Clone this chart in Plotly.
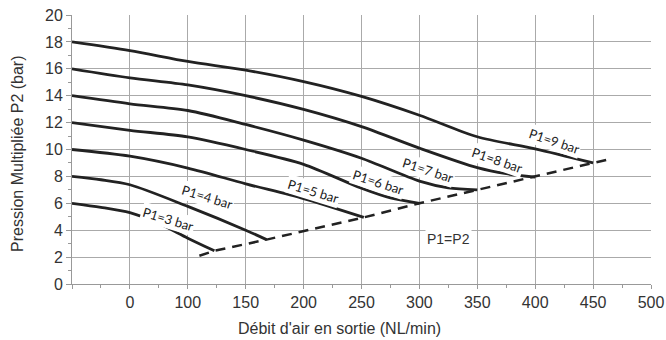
import plotly.graph_objects as go

# ---- data ----
p9_x = [0, 50, 100, 150, 200, 250, 300, 350, 400, 450]
p9_y = [18, 17.35, 16.55, 15.9, 15.05, 13.95, 12.55, 10.95, 10.05, 9.0]
p8_x = [0, 50, 100, 150, 200, 250, 300, 350, 375, 400]
p8_y = [16, 15.33, 14.8, 14.0, 12.98, 11.7, 10.1, 8.65, 8.2, 7.95]
p7_x = [0, 50, 100, 150, 200, 250, 300, 325, 350]
p7_y = [14, 13.4, 12.9, 11.86, 10.7, 9.35, 7.65, 7.15, 7.0]
p6_x = [0, 50, 100, 150, 200, 250, 275, 300]
p6_y = [12, 11.43, 10.93, 10.0, 8.9, 7.12, 6.4, 6.0]
p5_x = [0, 50, 100, 150, 200, 252]
p5_y = [10, 9.5, 8.62, 7.45, 6.35, 4.95]
p4_x = [0, 25, 50, 100, 150, 168]
p4_y = [8, 7.75, 7.38, 5.77, 4.0, 3.3]
p3_x = [0, 25, 50, 75, 100, 123]
p3_y = [6, 5.7, 5.3, 4.5, 3.41, 2.47]
eq_x = [110, 123, 168, 252, 300, 350, 400, 450, 465]
eq_y = [2.1, 2.47, 3.3, 4.95, 6.0, 7.0, 7.95, 9.0, 9.3]

series = [(p3_x, p3_y), (p4_x, p4_y), (p5_x, p5_y), (p6_x, p6_y),
          (p7_x, p7_y), (p8_x, p8_y), (p9_x, p9_y)]

label_text = ["P1=3 bar", "P1=4 bar", "P1=5 bar", "P1=6 bar", "P1=7 bar", "P1=8 bar", "P1=9 bar"]
label_x = [83, 117, 208, 264, 307, 367, 416]
label_y = [4.83, 6.45, 6.9, 7.55, 8.5, 9.23, 10.6]
label_angle = [17, 17, 17, 18, 18, 19, 18.5]

x_tickvals = [0, 50, 100, 150, 200, 250, 300, 350, 400, 450, 500]
x_ticktext = ["", "0", "100", "150", "200", "250", "300", "350", "400", "450", "500"]
y_tickvals = [0, 2, 4, 6, 8, 10, 12, 14, 16, 18, 20]

line_col = "#222222"
grid_col = "#aaaaaa"
txt_col = "#333333"

fig = go.Figure()
for xs, ys in series:
    fig.add_trace(go.Scatter(x=xs, y=ys, mode="lines",
                             line=dict(color=line_col, width=2.8, shape="spline", smoothing=0.8),
                             showlegend=False, hoverinfo="skip", cliponaxis=False))
fig.add_trace(go.Scatter(x=eq_x, y=eq_y, mode="lines",
                         line=dict(color=line_col, width=2.5, dash="10px,7px"),
                         showlegend=False, hoverinfo="skip"))

for t, x, y, a in zip(label_text, label_x, label_y, label_angle):
    fig.add_annotation(x=x, y=y, text=t, showarrow=False, textangle=a,
                       font=dict(family="Lato", size=13, color=line_col),
                       bgcolor="white", borderpad=1)

fig.add_annotation(x=325, y=3.35, text="P1=P2", showarrow=False,
                   font=dict(family="Liberation Sans", size=14, color=txt_col),
                   bgcolor="white", borderpad=1)

# axis titles
fig.add_annotation(xref="paper", yref="paper", x=(339 - 72) / 579, y=-44 / 269,
                   text="Débit d'air en sortie (NL/min)", showarrow=False,
                   xanchor="center", yanchor="middle",
                   font=dict(family="Liberation Sans", size=16, color=txt_col))
fig.add_annotation(xref="paper", yref="paper", x=-55 / 579, y=(284 - 154) / 269,
                   text="Pression Multipliée P2 (bar)", showarrow=False, textangle=-90,
                   xanchor="center", yanchor="middle",
                   font=dict(family="Liberation Sans", size=16, color=txt_col))

fig.update_xaxes(range=[0, 500], tickvals=x_tickvals, ticktext=x_ticktext,
                 showgrid=True, gridcolor=grid_col, gridwidth=1,
                 showline=True, linecolor="#999999", linewidth=1,
                 ticks="outside", ticklen=4, tickcolor="#999999",
                 minor=dict(dtick=25, tick0=0, ticks="outside", ticklen=3, tickcolor="#999999", showgrid=False),
                 tickfont=dict(family="Liberation Sans", size=16, color=txt_col),
                 zeroline=False, fixedrange=True, automargin=False)
fig.update_yaxes(range=[0, 20], tickvals=y_tickvals,
                 showgrid=True, gridcolor=grid_col, gridwidth=1,
                 showline=True, linecolor="#999999", linewidth=1,
                 ticks="outside", ticklen=5, tickcolor="#999999",
                 minor=dict(dtick=1, tick0=0, ticks="outside", ticklen=3, tickcolor="#999999", showgrid=False),
                 tickfont=dict(family="Liberation Sans", size=16, color=txt_col),
                 zeroline=False, fixedrange=True, automargin=False)

fig.update_layout(width=666, height=340, margin=dict(l=72, r=15, t=15, b=56, autoexpand=False),
                  paper_bgcolor="white", plot_bgcolor="white")

fig.write_html("out.html")
